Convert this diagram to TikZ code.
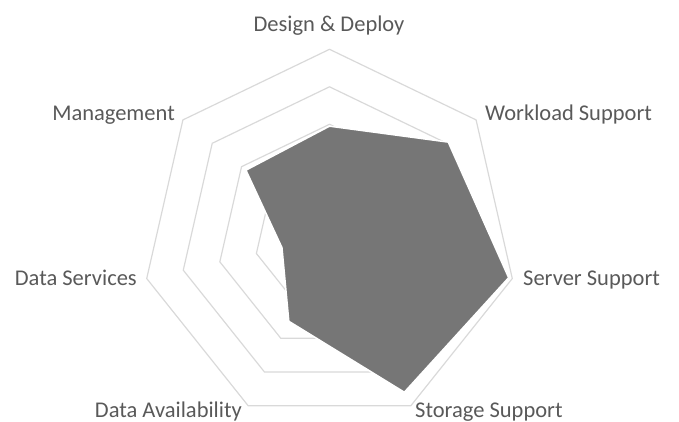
\documentclass[tikz,border=0pt]{standalone}
\usepackage{fontspec}
\setmainfont{Carlito}
\usepackage{tikz}
\usetikzlibrary{calc,positioning}
\definecolor{gridgray}{RGB}{217,217,217}
\definecolor{labelgray}{RGB}{89,89,89}
\definecolor{areagray}{RGB}{118,118,118}
\tikzset{
  ring/.style={
    draw=gridgray,
    line width=1.2pt,
    line join=miter
  },
  area/.style={
    fill=areagray,
    draw=white,
    line width=1.5pt,
    line join=miter
  },
  axislabel/.style={
    text=labelgray,
    inner sep=0pt,
    font=\fontsize{22.5}{26}\selectfont
  }
}

\begin{document}
\begin{tikzpicture}[x=1pt,y=1pt]
\useasboundingbox (0,0) rectangle (679,-421);
\begin{scope}[shift={(329.5,-236.8)}]
% rings
\foreach \r in {1,...,5}
  \draw[ring] (90:\r*37.5) \foreach \k in {1,...,6}{ -- (90-\k*360/7:\r*37.5) } -- cycle;
% data
\coordinate (p0) at (90:2.95*37.5);
\coordinate (p1) at (90-360/7:4.05*37.5);
\coordinate (p2) at (90-2*360/7:4.9*37.5);
\coordinate (p3) at (90-3*360/7:4.6*37.5);
\coordinate (p4) at (90-4*360/7:2.5*37.5);
\coordinate (p5) at (90-5*360/7:1.3*37.5);
\coordinate (p6) at (90-6*360/7:2.85*37.5);
\draw[area] (p0) -- (p1) -- (p2) -- (p3) -- (p4) -- (p5) -- (p6) -- cycle;
\end{scope}
\node[axislabel, anchor=base] (dd) at (329,-31.7) {Design \& Deploy};
\node[axislabel, anchor=base west] (wl) at (485,-120) {Workload Support};
\node[axislabel, anchor=base west] (sv) at (523,-285) {Server Support};
\node[axislabel, anchor=base west] (st) at (415,-417) {Storage Support};
\node[axislabel, anchor=base east] (da) at (242,-417) {Data Availability};
\node[axislabel, anchor=base east] (ds) at (137,-285) {Data Services};
\node[axislabel, anchor=base east] (mg) at (175,-120) {Management};
\end{tikzpicture}
\end{document}
